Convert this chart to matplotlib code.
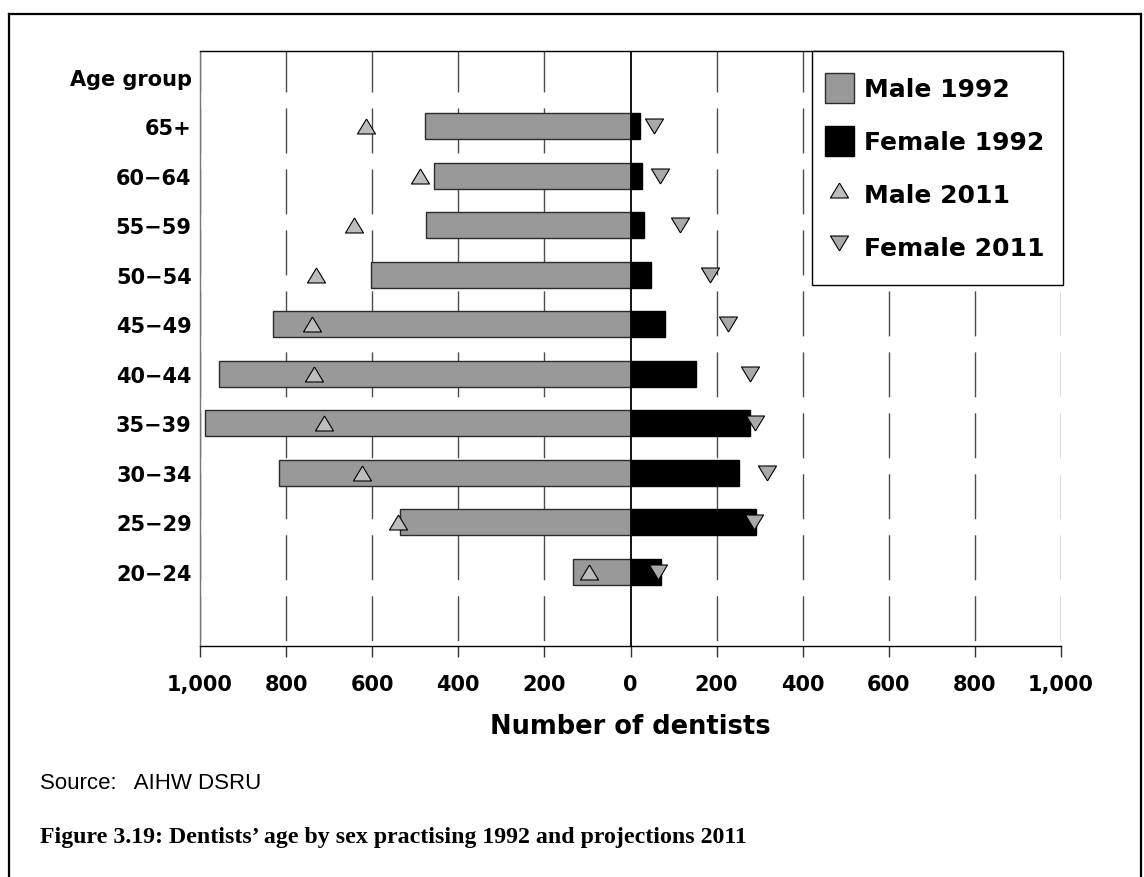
import matplotlib
matplotlib.use("Agg")
import matplotlib.pyplot as plt
from matplotlib.patches import Patch, Rectangle
from matplotlib.lines import Line2D
import numpy as np

# ---- data ----
age_groups = ["20\u221224", "25\u221229", "30\u221234", "35\u221239", "40\u221244",
              "45\u221249", "50\u221254", "55\u221259", "60\u221264", "65+"]
male_1992 = [133, 536, 816, 989, 956, 831, 602, 474, 457, 477]
female_1992 = [71, 291, 253, 277, 151, 81, 47, 32, 27, 22]
male_2011 = [96, 540, 624, 713, 736, 740, 730, 643, 489, 614]
female_2011 = [64, 287, 316, 290, 277, 227, 184, 115, 69, 55]
xticks = [-1000, -800, -600, -400, -200, 0, 200, 400, 600, 800, 1000]
series_labels = ["Male 1992", "Female 1992", "Male 2011", "Female 2011"]
header_label = "Age group"
xlabel = "Number of dentists"
source_text = "Source:   AIHW DSRU"
caption_text = "Figure 3.19: Dentists\u2019 age by sex practising 1992 and projections 2011"

W, H = 1144, 878
fig = plt.figure(figsize=(W / 100, H / 100), dpi=100)

ax_l, ax_r, ax_t, ax_b = 200, 1061, 52, 647
ax = fig.add_axes([ax_l / W, 1 - ax_b / H, (ax_r - ax_l) / W, (ax_b - ax_t) / H])

bold = dict(family="DejaVu Sans", fontweight="bold")

y = np.arange(len(age_groups))
ymin, ymax = -1.5, 10.52
ax.set_xlim(-1000, 1000)
ax.set_ylim(ymin, ymax)

# dashed gridlines (drawn from top downward)
for xv in xticks:
    if xv == 0:
        continue
    ax.plot([xv, xv], [ymax, ymin], color="#4d4d4d", lw=1.0,
            linestyle=(2.9, (32.4, 11.5)), zorder=1, solid_capstyle="butt")

bh = 0.53
ax.barh(y, [-v for v in male_1992], height=bh, color="#999999",
        edgecolor="#2b2b2b", linewidth=1, zorder=3)
ax.barh(y, female_1992, height=bh, color="black",
        edgecolor="black", linewidth=1, zorder=3)

tri_up = [(0, 0.83), (-1, -0.83), (1, -0.83), (0, 0.83)]
tri_dn = [(0, -0.83), (-1, 0.83), (1, 0.83), (0, -0.83)]
ax.plot([-v for v in male_2011], y, linestyle="none", marker=tri_up, ms=13,
        mfc="#bdbdbd", mec="black", mew=0.8, zorder=5)
ax.plot(female_2011, y, linestyle="none", marker=tri_dn, ms=13,
        mfc="#aaaaaa", mec="black", mew=0.8, zorder=5)

ax.axvline(0, color="black", lw=1.3, zorder=6)

# spines
ax.spines["right"].set_visible(False)
ax.spines["top"].set_color("black")
ax.spines["top"].set_linewidth(1.0)
ax.spines["left"].set_color("#777777")
ax.spines["left"].set_linewidth(1.0)
ax.spines["bottom"].set_color("black")
ax.spines["bottom"].set_linewidth(1.0)

ax.set_xticks(xticks)
ax.set_xticklabels([f"{abs(v):,}" for v in xticks], fontsize=15, **bold)
ax.tick_params(axis="x", direction="out", length=8, width=1, color="#333333", pad=12)
ax.set_yticks(list(y) + [10])
ax.set_yticklabels(age_groups + [header_label], fontsize=15, **bold)
ax.tick_params(axis="y", length=0, pad=6)

ax.set_xlabel(xlabel, fontsize=18.5, **bold)
ax.xaxis.set_label_coords(0.5, -(714 - ax_b) / (ax_b - ax_t))
ax.xaxis.label.set_va("top")

# legend box (frame drawn separately to match proportions)
lb_l, lb_r, lb_t, lb_b = 812, 1063, 52, 286
ax.add_patch(Rectangle((lb_l / W, 1 - lb_b / H), (lb_r - lb_l) / W, (lb_b - lb_t) / H,
                       transform=fig.transFigure, facecolor="white", edgecolor="black",
                       linewidth=1.0, clip_on=False, zorder=9))

handles = [
    Patch(facecolor="#999999", edgecolor="#2b2b2b", linewidth=1),
    Patch(facecolor="black", edgecolor="black", linewidth=1),
    Line2D([], [], linestyle="none", marker=tri_up, ms=13, mfc="#bdbdbd",
           mec="black", mew=0.8),
    Line2D([], [], linestyle="none", marker=tri_dn, ms=13, mfc="#aaaaaa",
           mec="black", mew=0.8),
]
leg = ax.legend(handles, series_labels, loc="upper right",
                bbox_to_anchor=((lb_r - ax_l) / (ax_r - ax_l), 1 - 3 / (ax_b - ax_t)),
                borderaxespad=0, frameon=False,
                prop=dict(family="DejaVu Sans", weight="bold", size=18),
                handlelength=1.16, handleheight=1.47, handletextpad=0.4,
                labelspacing=0.91, borderpad=0.76)
leg.set_zorder(10)

# outer frame
frame_kw = dict(color="black", lw=1.6, transform=fig.transFigure)
fig.add_artist(Line2D([9 / W, 9 / W], [0, 1 - 15 / H], **frame_kw))
fig.add_artist(Line2D([9 / W, 1141 / W], [1 - 15 / H, 1 - 15 / H], **frame_kw))
fig.add_artist(Line2D([1141 / W, 1141 / W], [0, 1 - 15 / H], **frame_kw))

fig.text(40 / W, 1 - 789 / H, source_text, family="Liberation Sans", fontsize=16,
         va="baseline", ha="left")
fig.text(40 / W, 1 - 843 / H, caption_text, family="Liberation Serif",
         fontweight="bold", fontsize=17.2, va="baseline", ha="left")

fig.savefig("out.png", dpi=100)
